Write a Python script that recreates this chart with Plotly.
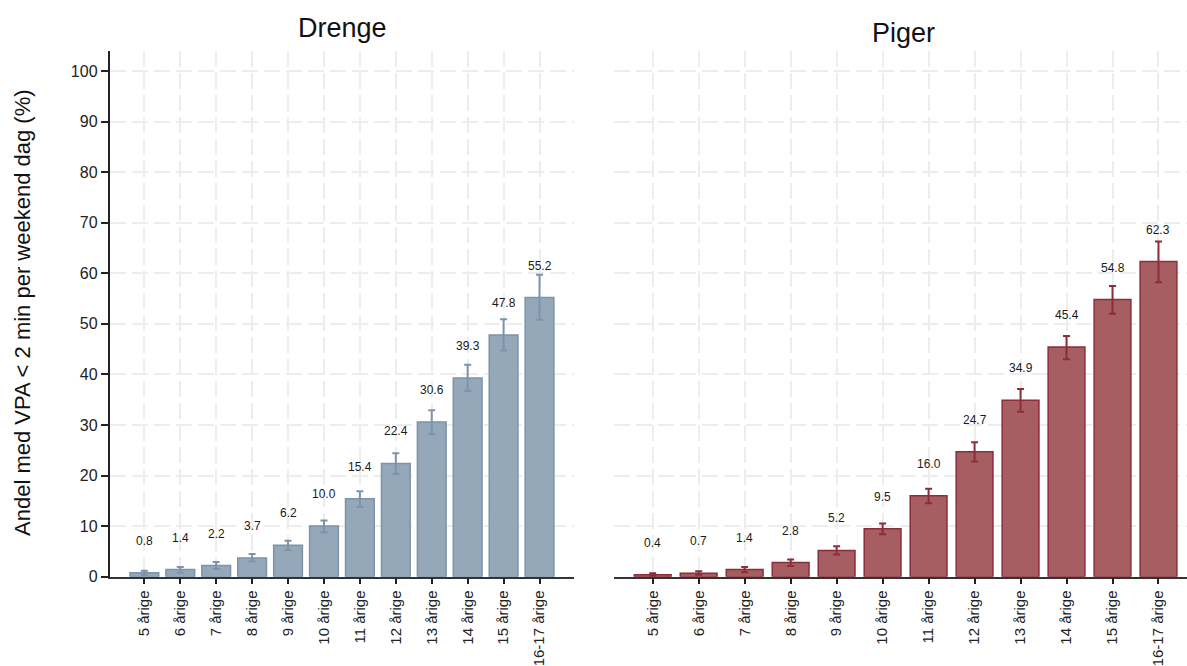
import plotly.graph_objects as go

# Age groups shown on both panels
ages = ["5 årige", "6 årige", "7 årige", "8 årige", "9 årige", "10 årige",
        "11 årige", "12 årige", "13 årige", "14 årige", "15 årige", "16-17 årige"]

# Boys: share (%) with < 2 min VPA per weekend day, with 95% CI bounds
boys = [0.8, 1.4, 2.2, 3.7, 6.2, 10.0, 15.4, 22.4, 30.6, 39.3, 47.8, 55.2]
boys_hi = [1.2, 1.9, 2.9, 4.5, 7.1, 11.1, 16.9, 24.4, 32.9, 41.9, 50.9, 59.7]
boys_lo = [0.4, 0.8, 1.5, 3.0, 5.3, 8.8, 13.8, 20.3, 28.2, 36.7, 44.7, 50.8]

# Girls
girls = [0.4, 0.7, 1.4, 2.8, 5.2, 9.5, 16.0, 24.7, 34.9, 45.4, 54.8, 62.3]
girls_hi = [0.7, 1.1, 1.9, 3.4, 6.0, 10.5, 17.4, 26.6, 37.1, 47.6, 57.5, 66.3]
girls_lo = [0.2, 0.4, 0.9, 2.1, 4.4, 8.4, 14.5, 22.8, 32.6, 43.0, 52.0, 58.2]

y_ticks = list(range(0, 101, 10))

W, H = 1187, 666
FONT = "Liberation Sans, Arial, sans-serif"
GRID = "#ededed"

BOY_FILL, BOY_EDGE = "#95a8ba", "#7d93aa"
GIRL_FILL, GIRL_EDGE = "#a65e63", "#8c2d3a"

fig = go.Figure()


def add_panel(vals, hi, lo, fill, edge, xa, ya):
    fig.add_trace(go.Bar(
        x=list(range(len(ages))), y=vals,
        width=0.8,
        marker=dict(color=fill, line=dict(color=edge, width=1.5)),
        error_y=dict(type="data", symmetric=False,
                     array=[h - v for h, v in zip(hi, vals)],
                     arrayminus=[v - l for v, l in zip(vals, lo)],
                     color=edge, thickness=2, width=3.5),
        xaxis=xa, yaxis=ya, showlegend=False, hoverinfo="skip",
    ))
    for i, v in enumerate(vals):
        fig.add_annotation(
            x=i, y=v, xref=xa, yref=ya, yshift=32,
            text=f"{v:.1f}", showarrow=False,
            xanchor="center", yanchor="middle",
            font=dict(family=FONT, size=12, color="#1a1a1a"),
        )


add_panel(boys, boys_hi, boys_lo, BOY_FILL, BOY_EDGE, "x", "y")
add_panel(girls, girls_hi, girls_lo, GIRL_FILL, GIRL_EDGE, "x2", "y2")

y_dom = [(H - 576.7) / H, (H - 50.7) / H]

xcommon = dict(
    tickmode="array", tickvals=list(range(len(ages))), ticktext=ages,
    tickangle=-90, tickfont=dict(family=FONT, size=15, color="#222"),
    ticks="outside", ticklen=6, tickwidth=1.5, tickcolor="#222",
    showline=True, linecolor="#333", linewidth=1.5,
    showgrid=True, gridcolor=GRID, gridwidth=2, griddash="16px,6px",
    zeroline=False, automargin=False,
)

fig.update_layout(
    width=W, height=H,
    margin=dict(l=0, r=0, t=0, b=0),
    paper_bgcolor="white", plot_bgcolor="white",
    font=dict(family=FONT),
    bargap=0.2,
    xaxis=dict(xcommon, domain=[109.5 / W, 574 / W], range=[-0.97, 11.96], anchor="y"),
    xaxis2=dict(xcommon, domain=[614.3 / W, 1.0], range=[-0.835, 11.62], anchor="y2"),
    yaxis=dict(
        domain=y_dom, range=[0, 104], anchor="x", automargin=False,
        tickmode="array", tickvals=y_ticks,
        tickfont=dict(family=FONT, size=16, color="#222"),
        ticks="outside", ticklen=7, tickwidth=1.5, tickcolor="#222",
        showline=True, linecolor="#222", linewidth=1.5,
        showgrid=True, gridcolor=GRID, gridwidth=2, griddash="16px,6px",
        zeroline=False,
    ),
    yaxis2=dict(
        domain=y_dom, range=[0, 104], anchor="x2", automargin=False,
        tickmode="array", tickvals=y_ticks, showticklabels=False,
        ticks="", showline=False,
        showgrid=True, gridcolor=GRID, gridwidth=2, griddash="16px,6px",
        zeroline=False,
    ),
)

# Panel titles
fig.add_annotation(x=342 / W, y=1 - 28 / H, xref="paper", yref="paper",
                   xanchor="center", yanchor="middle",
                   text="Drenge", showarrow=False,
                   font=dict(family=FONT, size=27, color="#111"))
fig.add_annotation(x=903 / W, y=1 - 33 / H, xref="paper", yref="paper",
                   xanchor="center", yanchor="middle",
                   text="Piger", showarrow=False,
                   font=dict(family=FONT, size=27, color="#111"))

# Shared y-axis title
fig.add_annotation(x=22 / W, y=1 - 313 / H, xref="paper", yref="paper",
                   xanchor="center", yanchor="middle",
                   text="Andel med VPA < 2 min per weekend dag (%)",
                   textangle=-90, showarrow=False,
                   font=dict(family=FONT, size=22, color="#111"))

fig.write_html("out.html")
